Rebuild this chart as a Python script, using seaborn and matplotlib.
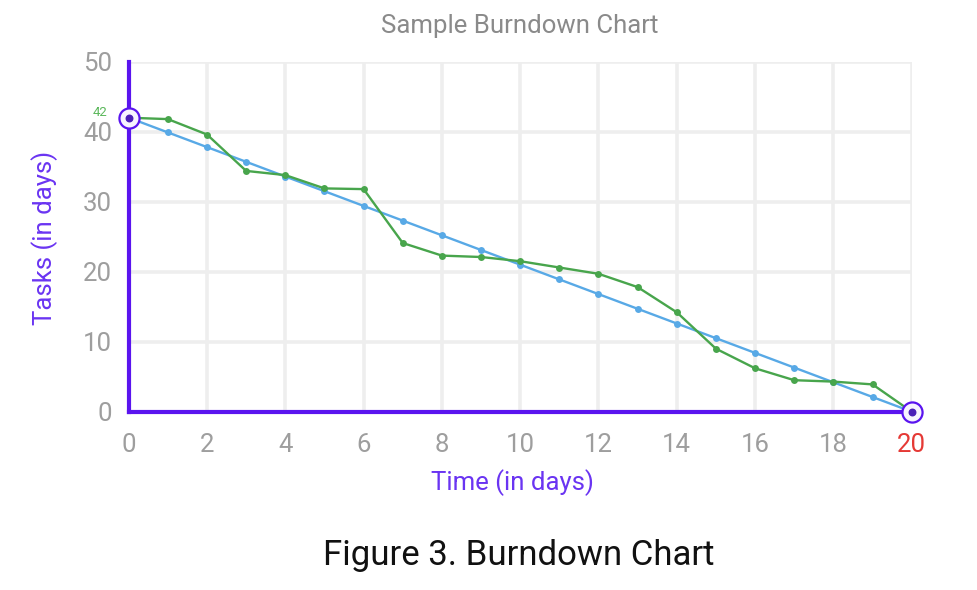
import numpy as np
import pandas as pd
import matplotlib
matplotlib.use("Agg")
import matplotlib.pyplot as plt
import seaborn as sns

# data
days = list(range(0, 21))
ideal_tasks = [42, 39.9, 37.8, 35.7, 33.6, 31.5, 29.4, 27.3, 25.2, 23.1, 21,
               18.9, 16.8, 14.7, 12.6, 10.5, 8.4, 6.3, 4.2, 2.1, 0]
actual_tasks = [42, 41.8, 39.6, 34.4, 33.8, 31.9, 31.8, 24.1, 22.3, 22.1, 21.5,
                20.6, 19.7, 17.8, 14.2, 9.0, 6.2, 4.5, 4.3, 3.9, 0]
x_ticks = [0, 2, 4, 6, 8, 10, 12, 14, 16, 18, 20]
y_ticks = [0, 10, 20, 30, 40, 50]

PURPLE = '#5a14ef'
PURPLE_TXT = '#6a34f2'
BLUE = '#58a9e6'
GREEN = '#48a54c'
GREY_TXT = '#9e9e9e'

df = pd.DataFrame({
    'day': days * 2,
    'tasks': ideal_tasks + actual_tasks,
    'series': ['Ideal'] * len(days) + ['Actual'] * len(days),
})

sns.set_theme(style="white")
plt.rcParams['font.family'] = ['Roboto', 'DejaVu Sans']

fig = plt.figure(figsize=(9.78, 5.9), dpi=100)
fig.patch.set_facecolor('white')
ax = fig.add_axes([0.1316, 0.3022, 0.8006, 0.5932])

sns.lineplot(data=df, x='day', y='tasks', hue='series', palette={'Ideal': BLUE, 'Actual': GREEN},
             hue_order=['Ideal', 'Actual'], marker='o', markersize=5, markeredgewidth=0,
             linewidth=1.7, legend=False, ax=ax, zorder=3)
for ln in ax.lines:
    ln.set_clip_on(False)

ax.set_xlim(0, 20)
ax.set_ylim(0, 50)
ax.set_xticks(x_ticks)
ax.set_yticks(y_ticks)
ax.set_axisbelow(True)
ax.grid(True, color='#eeeeee', linewidth=2.6)

for side in ['top', 'right']:
    ax.spines[side].set_visible(False)
for side in ['left', 'bottom']:
    ax.spines[side].set_color(PURPLE)
    ax.spines[side].set_linewidth(3)
    ax.spines[side].set_zorder(4)

ax.tick_params(axis='both', length=0, labelsize=18.5, labelcolor=GREY_TXT)
ax.tick_params(axis='x', pad=15)
ax.tick_params(axis='y', pad=12)
ax.get_xticklabels()[-1].set_color('#e53935')
ax.set_xlabel('')
ax.set_ylabel('')

# start / end markers
ends_x = [days[0], days[-1]]
ends_y = [ideal_tasks[0], ideal_tasks[-1]]
ax.scatter(ends_x, ends_y, s=210, facecolor='#f7f4ff', edgecolor=PURPLE, linewidth=1.6,
           zorder=5, clip_on=False)
ax.scatter(ends_x, ends_y, s=22, color='#4a1fb8', zorder=6, clip_on=False)
ax.annotate(str(actual_tasks[0]), xy=(days[0], actual_tasks[0]), xytext=(-15, 4),
            textcoords='offset points', ha='right', va='center', fontsize=9.5, color='#5cb85c')

fig.text(0.531, 1 - 26 / 590, 'Sample Burndown Chart', ha='center', va='center',
         fontsize=18.5, color='#8a8a8a')
fig.text(0.5235, 1 - 483 / 590, 'Time (in days)', ha='center', va='center',
         fontsize=18.5, color=PURPLE_TXT)
fig.text(0.046, 1 - 238 / 590, 'Tasks (in days)', ha='center', va='center',
         fontsize=18.5, color=PURPLE_TXT, rotation=90)
fig.text(0.530, 1 - 556 / 590, 'Figure 3. Burndown Chart', ha='center', va='center',
         fontsize=25, color='#111111')

fig.savefig('out.png', dpi=100)
